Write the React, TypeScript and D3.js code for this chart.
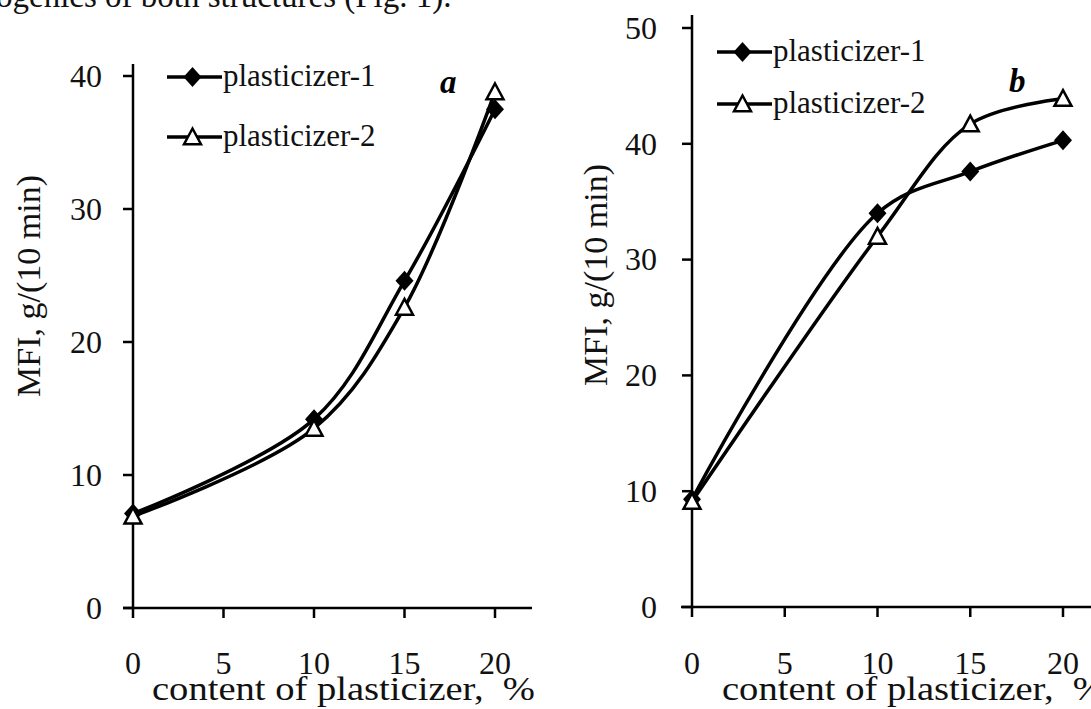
import React from "react";
import * as d3 from "d3";

const xValues = [0, 10, 15, 20];
const aPlast1 = [7.1, 14.2, 24.6, 37.5];
const aPlast2 = [6.9, 13.5, 22.6, 38.8];
const bPlast1 = [9.3, 34.0, 37.6, 40.3];
const bPlast2 = [9.1, 32.0, 41.7, 43.9];
const xTicks = [0, 5, 10, 15, 20];
const aYTicks = [0, 10, 20, 30, 40];
const bYTicks = [0, 10, 20, 30, 40, 50];
const seriesNames = ["plasticizer-1", "plasticizer-2"];
const xLabel = "content of plasticizer,  %";
const yLabel = "MFI, g/(10 min)";
const topText = "ogenics of both structures (Fig. 1).";

const FONT = "'Liberation Serif', 'Times New Roman', serif";

const diamondType = {
  draw(ctx: any, size: number) {
    const w = Math.sqrt(size) * 0.9;
    const h = Math.sqrt(size);
    ctx.moveTo(0, -h);
    ctx.lineTo(w, 0);
    ctx.lineTo(0, h);
    ctx.lineTo(-w, 0);
    ctx.closePath();
  },
};
const triangleType = {
  draw(ctx: any, size: number) {
    const s = Math.sqrt(size);
    ctx.moveTo(0, -s);
    ctx.lineTo(s, s * 0.85);
    ctx.lineTo(-s, s * 0.85);
    ctx.closePath();
  },
};
const diamondPath = d3.symbol(diamondType as any, 100)()!;
const trianglePath = d3.symbol(triangleType as any, 72)()!;

type PanelProps = {
  xRange: [number, number];
  yDomainMax: number;
  yRange: [number, number];
  yTicks: number[];
  s1: number[];
  s2: number[];
  axisTop: number;
  xAxisStart: number;
  xAxisEnd: number;
  yTickLabelRight: number;
  yLabelPos: [number, number];
  xLabelX: number;
  legendLine: [number, number];
  legendY: [number, number];
  letter: string;
  letterPos: [number, number];
};

function Panel(p: PanelProps) {
  const x = d3.scaleLinear().domain([0, 20]).range(p.xRange);
  const y = d3.scaleLinear().domain([0, p.yDomainMax]).range(p.yRange);
  const line = d3
    .line<number>()
    .x((_, i) => x(xValues[i]))
    .y((d) => y(d))
    .curve(d3.curveCatmullRom.alpha(0.5));
  const x0 = x(0);
  const y0 = y(0);
  const lc = (p.legendLine[0] + p.legendLine[1]) / 2 - 2;
  return (
    <g>
      <line x1={x0} x2={x0} y1={p.axisTop} y2={y0} stroke="#000" strokeWidth={2.5} />
      <line x1={p.xAxisStart} x2={p.xAxisEnd} y1={y0} y2={y0} stroke="#000" strokeWidth={2.5} />
      {p.yTicks.map((t) => (
        <g key={"y" + t}>
          <line x1={x0 - 10} x2={x0} y1={y(t)} y2={y(t)} stroke="#000" strokeWidth={2.5} />
          <text x={p.yTickLabelRight} y={y(t)} dy="0.34em" textAnchor="end" fontSize={32} fontFamily={FONT} fill="#111">
            {t}
          </text>
        </g>
      ))}
      {xTicks.map((t) => (
        <g key={"x" + t}>
          <line x1={x(t)} x2={x(t)} y1={y0} y2={y0 + 10} stroke="#000" strokeWidth={2.5} />
          <text x={x(t)} y={674} textAnchor="middle" fontSize={32} fontFamily={FONT} fill="#111">
            {t}
          </text>
        </g>
      ))}
      <text
        x={p.xLabelX}
        y={700}
        fontSize={33}
        fontFamily={FONT}
        textLength={383}
        lengthAdjust="spacingAndGlyphs"
        fill="#111"
        style={{ whiteSpace: "pre" }}
      >
        {xLabel}
      </text>
      <text
        transform={`translate(${p.yLabelPos[0]},${p.yLabelPos[1]}) rotate(-90)`}
        textAnchor="middle"
        dy="0.3em"
        fontSize={34}
        fontFamily={FONT}
        fill="#111"
      >
        {yLabel}
      </text>
      <path d={line(p.s1)!} fill="none" stroke="#000" strokeWidth={3.5} />
      <path d={line(p.s2)!} fill="none" stroke="#000" strokeWidth={3.5} />
      {p.s1.map((v, i) => (
        <path key={"d" + i} d={diamondPath} transform={`translate(${x(xValues[i])},${y(v)})`} fill="#000" />
      ))}
      {p.s2.map((v, i) => (
        <path
          key={"t" + i}
          d={trianglePath}
          transform={`translate(${x(xValues[i])},${y(v)})`}
          fill="#fff"
          stroke="#000"
          strokeWidth={2.5}
        />
      ))}
      {seriesNames.map((name, i) => (
        <g key={name}>
          <line x1={p.legendLine[0]} x2={p.legendLine[1]} y1={p.legendY[i]} y2={p.legendY[i]} stroke="#000" strokeWidth={3.5} />
          {i === 0 ? (
            <path d={diamondPath} transform={`translate(${lc},${p.legendY[i]})`} fill="#000" />
          ) : (
            <path d={trianglePath} transform={`translate(${lc},${p.legendY[i]})`} fill="#fff" stroke="#000" strokeWidth={2.5} />
          )}
          <text x={p.legendLine[1] + 1} y={p.legendY[i] + 9} fontSize={31} fontFamily={FONT} fill="#111">
            {name}
          </text>
        </g>
      ))}
      <text
        x={p.letterPos[0]}
        y={p.letterPos[1]}
        fontSize={33}
        fontWeight="bold"
        fontStyle="italic"
        fontFamily={FONT}
      >
        {p.letter}
      </text>
    </g>
  );
}

export default function App() {
  return (
    <svg
      width={1091}
      height={709}
      style={{ position: "absolute", left: 0, top: 0, background: "#fff" }}
    >
      <rect width={1091} height={709} fill="#fff" />
      <text x={-4} y={7} fontSize={33} fontFamily={FONT} fill="#111">
        {topText}
      </text>
      <Panel
        xRange={[133, 495]}
        yDomainMax={40}
        yRange={[608, 76]}
        yTicks={aYTicks}
        s1={aPlast1}
        s2={aPlast2}
        axisTop={64}
        xAxisStart={123}
        xAxisEnd={532}
        yTickLabelRight={102}
        yLabelPos={[30, 286]}
        xLabelX={152}
        legendLine={[167, 222]}
        legendY={[77, 137]}
        letter="a"
        letterPos={[440, 93]}
      />
      <Panel
        xRange={[692, 1063]}
        yDomainMax={50}
        yRange={[607, 28]}
        yTicks={bYTicks}
        s1={bPlast1}
        s2={bPlast2}
        axisTop={15}
        xAxisStart={681}
        xAxisEnd={1095}
        yTickLabelRight={657}
        yLabelPos={[597, 275]}
        xLabelX={722}
        legendLine={[717, 772]}
        legendY={[52, 104]}
        letter="b"
        letterPos={[1009, 92]}
      />
    </svg>
  );
}
